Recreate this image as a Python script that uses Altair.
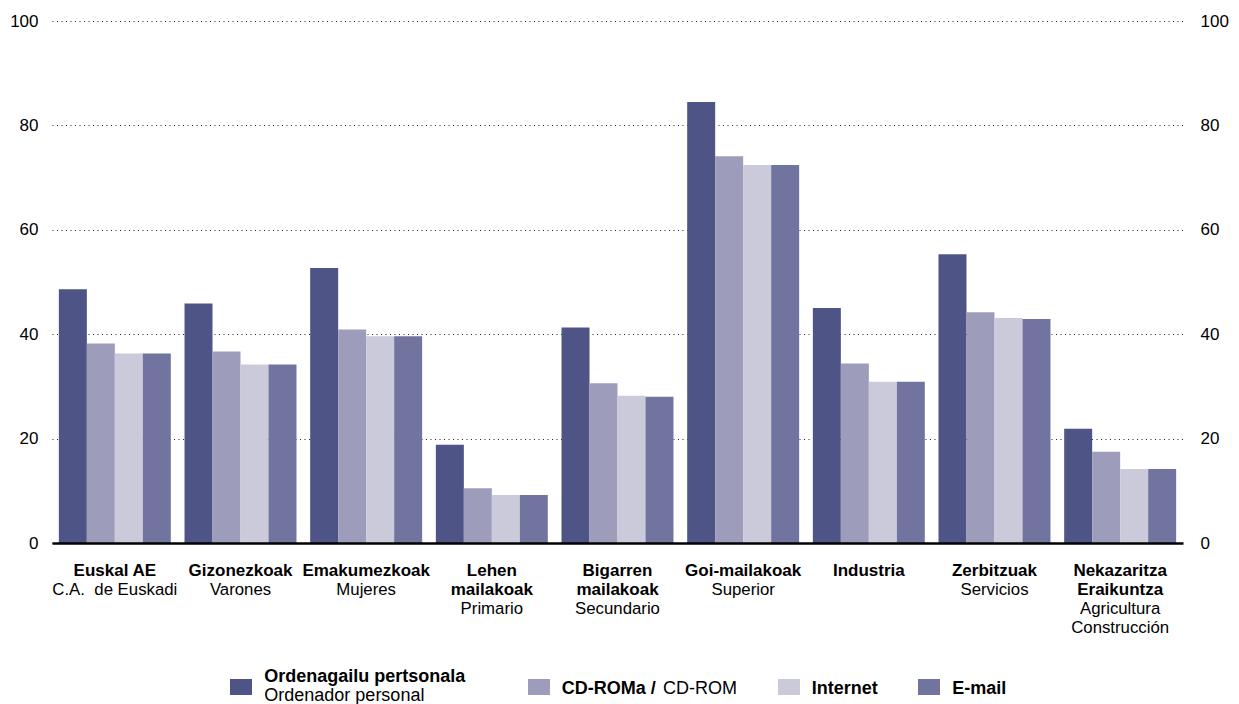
import altair as alt
import pandas as pd

# ---------------- data ----------------
CATEGORIES = ["Euskal AE", "Gizonezkoak", "Emakumezkoak", "Lehen mailakoak",
              "Bigarren mailakoak", "Goi-mailakoak", "Industria", "Zerbitzuak",
              "Nekazaritza Eraikuntza"]
LABEL_BOLD = [["Euskal AE"], ["Gizonezkoak"], ["Emakumezkoak"], ["Lehen", "mailakoak"],
              ["Bigarren", "mailakoak"], ["Goi-mailakoak"], ["Industria"], ["Zerbitzuak"],
              ["Nekazaritza", "Eraikuntza"]]
LABEL_NORMAL = [["C.A.\u00a0 de Euskadi"], ["Varones"], ["Mujeres"], ["Primario"],
                ["Secundario"], ["Superior"], [], ["Servicios"],
                ["Agricultura", "Construcción"]]
SERIES = ["Ordenagailu pertsonala", "CD-ROMa", "Internet", "E-mail"]
PC = [48.6, 45.9, 52.7, 18.8, 41.3, 84.5, 45.0, 55.3, 21.9]
CDROM = [38.2, 36.7, 40.9, 10.5, 30.6, 74.1, 34.4, 44.2, 17.5]
INTERNET = [36.3, 34.2, 39.6, 9.2, 28.2, 72.4, 30.9, 43.1, 14.2]
EMAIL = [36.3, 34.2, 39.6, 9.2, 28.0, 72.4, 30.9, 42.9, 14.2]
Y_TICKS = [0, 20, 40, 60, 80, 100]

COLORS = ["#4e5486", "#9d9cba", "#cbcadb", "#7274a0"]
FONT = "Liberation Sans"

# ---------------- tables ----------------
rows = []
for s, vals in zip(SERIES, [PC, CDROM, INTERNET, EMAIL]):
    for c, v in zip(CATEGORIES, vals):
        rows.append({"cat": c, "series": s, "value": v})
df = pd.DataFrame(rows)

lines = []
for c, b, n in zip(CATEGORIES, LABEL_BOLD, LABEL_NORMAL):
    for i, t in enumerate(b + n):
        lines.append({"cat": c, "line": i, "text": t, "bold": i < len(b)})
ldf = pd.DataFrame(lines)

W, H = 1131, 522

X_ENC = alt.X("cat:N", sort=CATEGORIES,
              scale=alt.Scale(paddingInner=0.109, paddingOuter=0.0545),
              axis=alt.Axis(labels=False, ticks=False, title=None, grid=False,
                            domainColor="black", domainWidth=2.5, zindex=1))

bars = alt.Chart(df).mark_bar().encode(
    x=X_ENC,
    xOffset=alt.XOffset("series:N", sort=SERIES,
                        scale=alt.Scale(paddingInner=0, paddingOuter=0)),
    y=alt.Y("value:Q", scale=alt.Scale(domain=[0, 100]),
            axis=alt.Axis(orient="left", values=Y_TICKS, grid=True, gridDash=[1, 3.5],
                          gridColor="#222222", gridWidth=1, ticks=False, domain=False,
                          labelPadding=14, labelFontSize=17, labelFont=FONT,
                          labelColor="black", title=None)),
    color=alt.Color("series:N", scale=alt.Scale(domain=SERIES, range=COLORS), legend=None),
)

right_axis = alt.Chart(df).mark_bar(opacity=0).encode(
    x=X_ENC,
    xOffset=alt.XOffset("series:N", sort=SERIES,
                        scale=alt.Scale(paddingInner=0, paddingOuter=0)),
    y=alt.Y("value:Q", scale=alt.Scale(domain=[0, 100]),
            axis=alt.Axis(orient="right", values=Y_TICKS, grid=False, ticks=False,
                          domain=False, labelPadding=17, labelFontSize=17,
                          labelFont=FONT, labelColor="black", title=None)),
)

layers = [bars, right_axis]

# category labels
BASE = 554.7
STEP = 19.2
for i in range(4):
    for bold in (True, False):
        sub = ldf[(ldf["line"] == i) & (ldf["bold"] == bold)]
        if len(sub) == 0:
            continue
        layers.append(
            alt.Chart(sub).mark_text(
                baseline="alphabetic", align="center", font=FONT,
                fontSize=17 if bold else 16.8,
                fontWeight="bold" if bold else "normal", color="black"
            ).encode(x=X_ENC, y=alt.value(BASE + STEP * i), text="text:N")
        )

# legend
one = pd.DataFrame({"k": [0]})
LEG_RECT_X = [178, 476, 726, 866]
RECT_Y0, RECT_Y1 = 658, 674
for lx, col in zip(LEG_RECT_X, COLORS):
    layers.append(
        alt.Chart(one).mark_rect(color=col).encode(
            x=alt.value(lx), x2=alt.value(lx + 22),
            y=alt.value(RECT_Y0), y2=alt.value(RECT_Y1))
    )

def legend_text(txt, x, y, bold):
    return alt.Chart(pd.DataFrame({"t": [txt]})).mark_text(
        align="left", baseline="alphabetic", font=FONT, fontSize=18,
        fontWeight="bold" if bold else "normal", color="black"
    ).encode(x=alt.value(x), y=alt.value(y), text="t:N")

layers += [
    legend_text("Ordenagailu pertsonala", 212.3, 660.7, True),
    legend_text("Ordenador personal", 212.3, 679.7, False),
    legend_text("CD-ROMa /", 509.7, 673, True),
    legend_text("CD-ROM", 611, 673, False),
    legend_text("Internet", 759.7, 673, True),
    legend_text("E-mail", 900.3, 673, True),
]

chart = alt.layer(*layers).resolve_axis(y="independent").resolve_scale(y="shared").properties(
    width=W, height=H,
    padding={"left": 44, "top": 13, "right": 48, "bottom": 162},
    autosize=alt.AutoSizeParams(type="none"),
).configure(font=FONT).configure_view(stroke=None, strokeWidth=0)

chart.save("out.html", embed_options={"renderer": "svg", "actions": False})
